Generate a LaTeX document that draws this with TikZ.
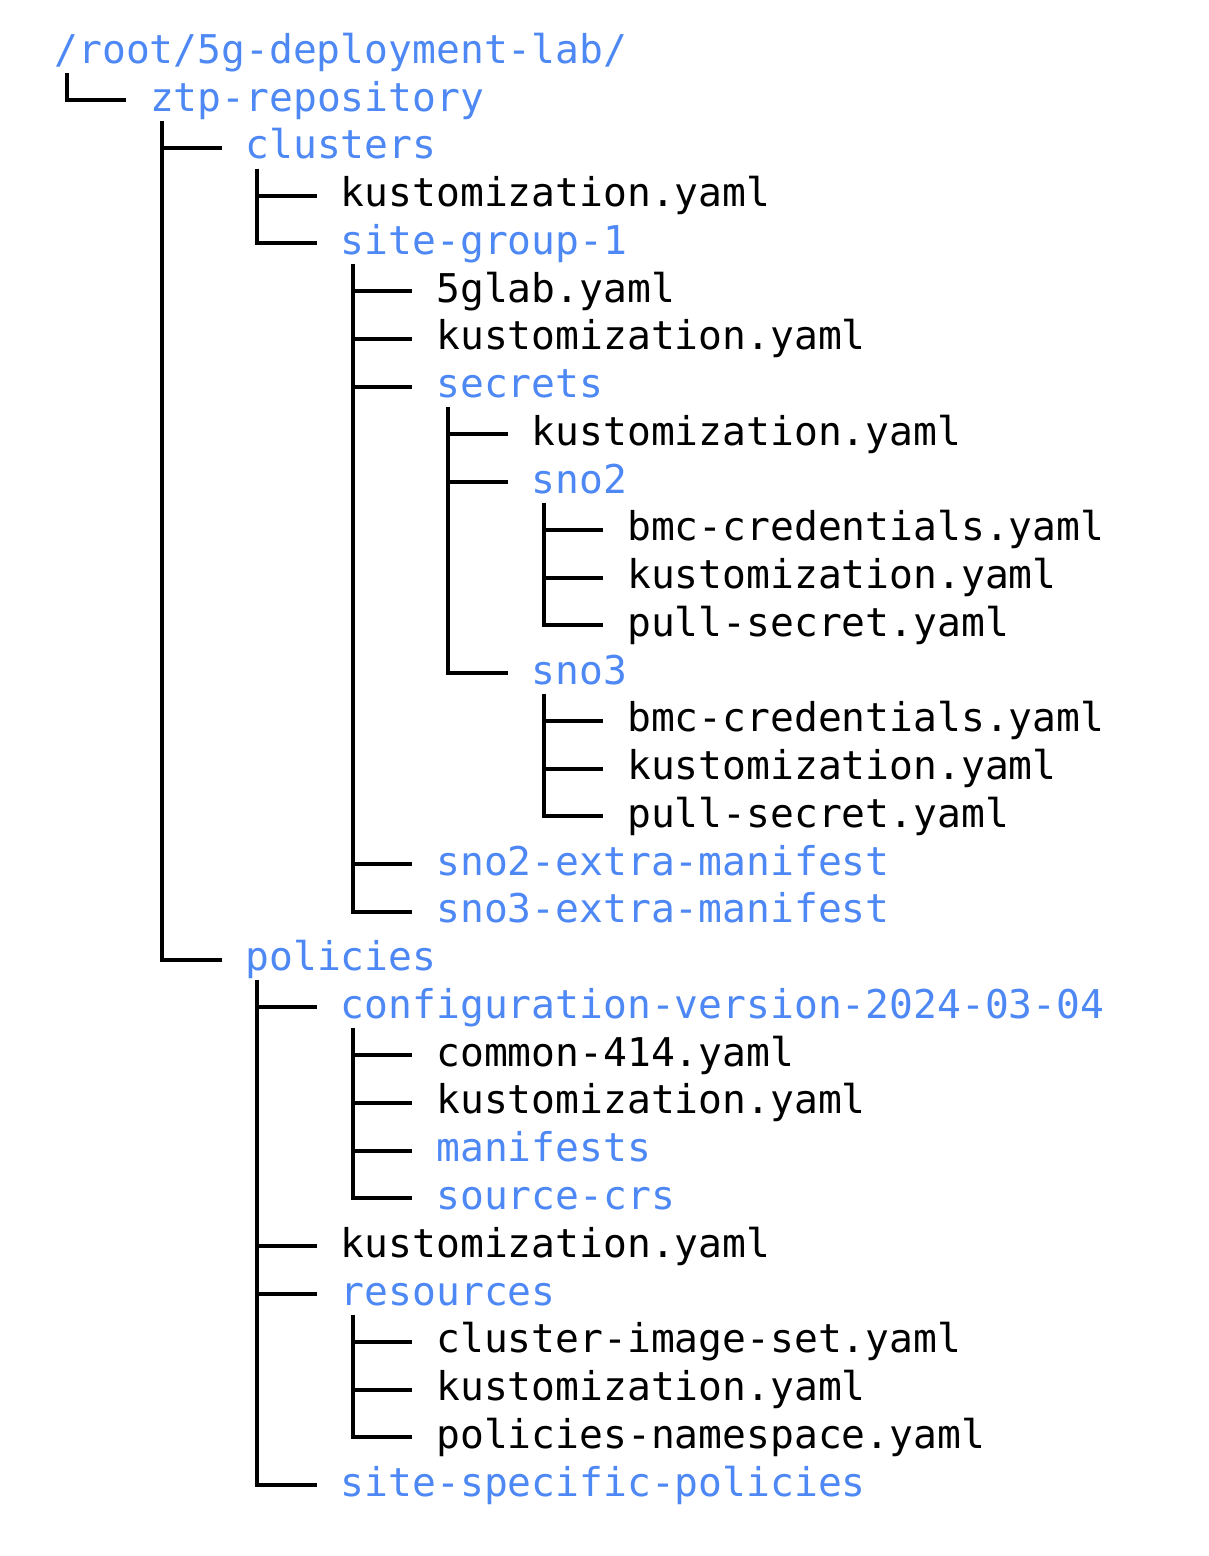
\documentclass[tikz,border=0pt]{standalone}
\usepackage{fontspec}
\usetikzlibrary{calc}
\newfontfamily\treefont{DejaVu Sans Mono}
\definecolor{treeblue}{RGB}{78,136,245}
\def\tcw{23.86}
\def\trh{47.76}
\def\txo{54.57}
\def\tyo{63.24}
\newcommand\tlink[2]{\draw[branch] ($(#1.base west)+(0.5*\tcw,9.76)$) |- ($(#2.base west)+(-\tcw,-11)$);}
\tikzset{
  entry/.style={anchor=base west, inner sep=0pt, outer sep=0pt, font=\treefont\fontsize{39.63}{47.76}\selectfont},
  dirname/.style={entry, text=treeblue},
  filename/.style={entry, text=black},
  branch/.style={line width=4pt, draw=black, line join=miter}
}
\begin{document}
\begin{tikzpicture}[x=1pt,y=-1pt]
\fill[white] (0,0) rectangle (1208,1556);
\useasboundingbox (0,0) rectangle (1208,1556);
% entries: column = 4*level, row index
\node[dirname]  (n0)  at ({\txo+0*\tcw},  {\tyo+0*\trh})  {/root/5g-deployment-lab/};
\node[dirname]  (n1)  at ({\txo+4*\tcw},  {\tyo+1*\trh})  {ztp-repository};
\node[dirname]  (n2)  at ({\txo+8*\tcw},  {\tyo+2*\trh})  {clusters};
\node[filename] (n3)  at ({\txo+12*\tcw}, {\tyo+3*\trh})  {kustomization.yaml};
\node[dirname]  (n4)  at ({\txo+12*\tcw}, {\tyo+4*\trh})  {site-group-1};
\node[filename] (n5)  at ({\txo+16*\tcw}, {\tyo+5*\trh})  {5glab.yaml};
\node[filename] (n6)  at ({\txo+16*\tcw}, {\tyo+6*\trh})  {kustomization.yaml};
\node[dirname]  (n7)  at ({\txo+16*\tcw}, {\tyo+7*\trh})  {secrets};
\node[filename] (n8)  at ({\txo+20*\tcw}, {\tyo+8*\trh})  {kustomization.yaml};
\node[dirname]  (n9)  at ({\txo+20*\tcw}, {\tyo+9*\trh})  {sno2};
\node[filename] (n10) at ({\txo+24*\tcw}, {\tyo+10*\trh}) {bmc-credentials.yaml};
\node[filename] (n11) at ({\txo+24*\tcw}, {\tyo+11*\trh}) {kustomization.yaml};
\node[filename] (n12) at ({\txo+24*\tcw}, {\tyo+12*\trh}) {pull-secret.yaml};
\node[dirname]  (n13) at ({\txo+20*\tcw}, {\tyo+13*\trh}) {sno3};
\node[filename] (n14) at ({\txo+24*\tcw}, {\tyo+14*\trh}) {bmc-credentials.yaml};
\node[filename] (n15) at ({\txo+24*\tcw}, {\tyo+15*\trh}) {kustomization.yaml};
\node[filename] (n16) at ({\txo+24*\tcw}, {\tyo+16*\trh}) {pull-secret.yaml};
\node[dirname]  (n17) at ({\txo+16*\tcw}, {\tyo+17*\trh}) {sno2-extra-manifest};
\node[dirname]  (n18) at ({\txo+16*\tcw}, {\tyo+18*\trh}) {sno3-extra-manifest};
\node[dirname]  (n19) at ({\txo+8*\tcw},  {\tyo+19*\trh}) {policies};
\node[dirname]  (n20) at ({\txo+12*\tcw}, {\tyo+20*\trh}) {configuration-version-2024-03-04};
\node[filename] (n21) at ({\txo+16*\tcw}, {\tyo+21*\trh}) {common-414.yaml};
\node[filename] (n22) at ({\txo+16*\tcw}, {\tyo+22*\trh}) {kustomization.yaml};
\node[dirname]  (n23) at ({\txo+16*\tcw}, {\tyo+23*\trh}) {manifests};
\node[dirname]  (n24) at ({\txo+16*\tcw}, {\tyo+24*\trh}) {source-crs};
\node[filename] (n25) at ({\txo+12*\tcw}, {\tyo+25*\trh}) {kustomization.yaml};
\node[dirname]  (n26) at ({\txo+12*\tcw}, {\tyo+26*\trh}) {resources};
\node[filename] (n27) at ({\txo+16*\tcw}, {\tyo+27*\trh}) {cluster-image-set.yaml};
\node[filename] (n28) at ({\txo+16*\tcw}, {\tyo+28*\trh}) {kustomization.yaml};
\node[filename] (n29) at ({\txo+16*\tcw}, {\tyo+29*\trh}) {policies-namespace.yaml};
\node[dirname]  (n30) at ({\txo+12*\tcw}, {\tyo+30*\trh}) {site-specific-policies};
% connectors parent -> child
\tlink{n0}{n1}
\tlink{n1}{n2}  \tlink{n1}{n19}
\tlink{n2}{n3}  \tlink{n2}{n4}
\tlink{n4}{n5}  \tlink{n4}{n6}  \tlink{n4}{n7}  \tlink{n4}{n17} \tlink{n4}{n18}
\tlink{n7}{n8}  \tlink{n7}{n9}  \tlink{n7}{n13}
\tlink{n9}{n10} \tlink{n9}{n11} \tlink{n9}{n12}
\tlink{n13}{n14} \tlink{n13}{n15} \tlink{n13}{n16}
\tlink{n19}{n20} \tlink{n19}{n25} \tlink{n19}{n26} \tlink{n19}{n30}
\tlink{n20}{n21} \tlink{n20}{n22} \tlink{n20}{n23} \tlink{n20}{n24}
\tlink{n26}{n27} \tlink{n26}{n28} \tlink{n26}{n29}
\end{tikzpicture}
\end{document}
